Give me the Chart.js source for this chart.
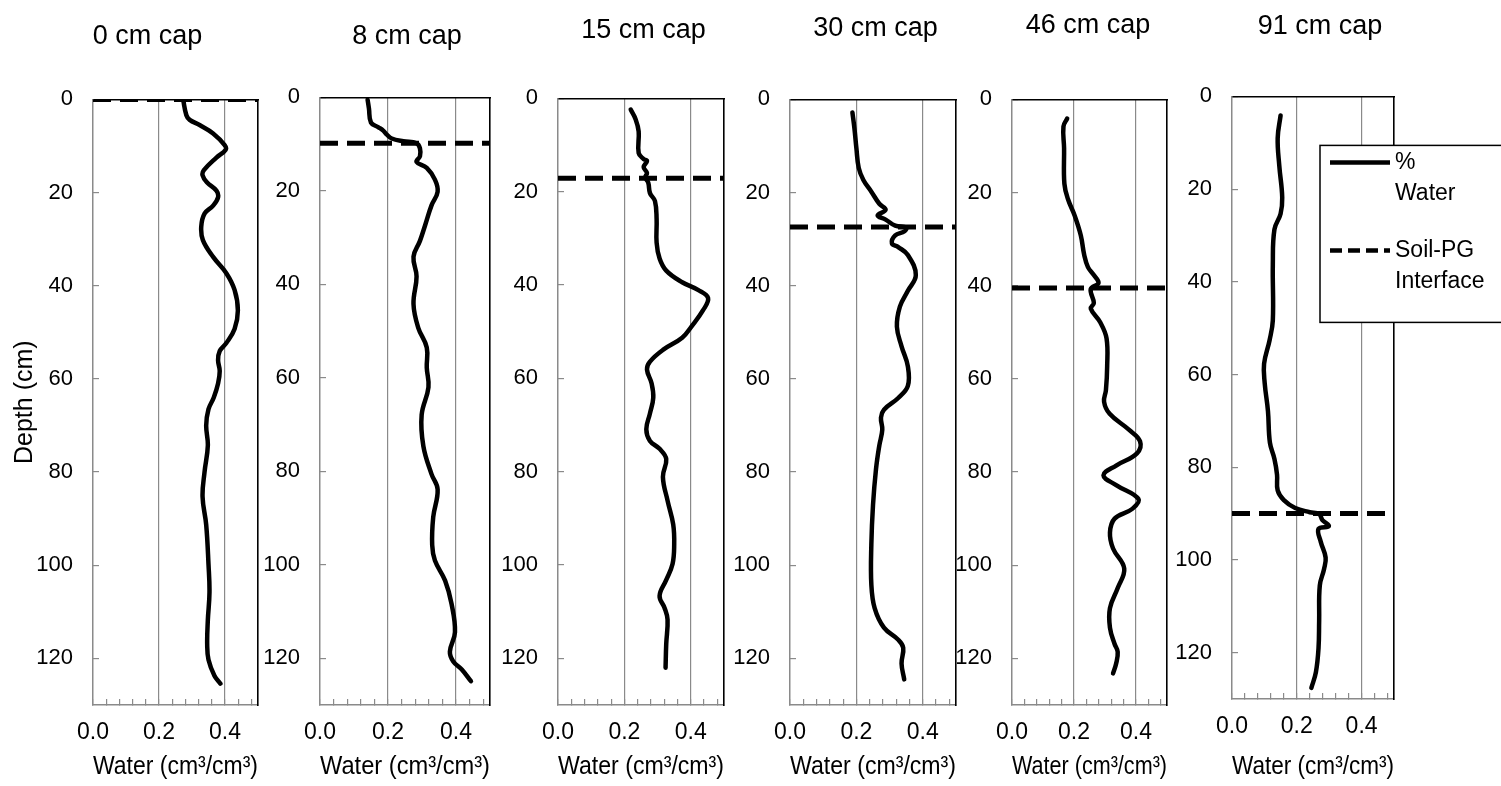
<!DOCTYPE html>
<html>
<head>
<meta charset="utf-8">
<script src="https://cdn.jsdelivr.net/npm/chart.js@4.4.0/dist/chart.umd.min.js"></script>
<style>
    body { margin: 0; background: #fff; width: 1501px; height: 786px; overflow: hidden; position: relative; }
    canvas { position: absolute; top: 0; }
</style>
</head>
<body>
<canvas id="cap0"></canvas>
<canvas id="cap8"></canvas>
<canvas id="cap15"></canvas>
<canvas id="cap30"></canvas>
<canvas id="cap46"></canvas>
<canvas id="cap91"></canvas>
<script>
// Panel titles and interface depths (cm)
const capTitles = ['0 cm cap', '8 cm cap', '15 cm cap', '30 cm cap', '46 cm cap', '91 cm cap'];
const interfaceDepth = [0, 9.8, 17.1, 27.4, 40.5, 90];

// Axis ticks
const waterTicks = [0, 0.04, 0.08, 0.12, 0.16, 0.2, 0.24, 0.28, 0.32, 0.36, 0.4, 0.44, 0.48];
const waterLabels = [0, 0.2, 0.4];
const waterGrid = [0.2, 0.4];
const depthTicks = [0, 20, 40, 60, 80, 100, 120];

const seriesLabels = ['% Water', 'Soil-PG Interface'];
const legendLines = [['%', 'Water'], ['Soil-PG', 'Interface']];

// 0 cm cap
const depthCap0 = [0, 3.4, 4.4, 5.5, 7.3, 9.8, 10.8, 12.5, 15.2, 16.3, 17.8, 19.6, 21, 22.8, 24.5, 27.3, 30.2, 33.8, 37.3, 40.9, 45.3, 49.3, 52.3, 54, 56, 58.3, 61, 64, 66.5, 70, 74.3, 80, 85.3, 91.3, 99.8, 105.8, 111.8, 116.9, 120.3, 123.7, 125.4];
const waterCap0 = [0.273, 0.283, 0.293, 0.323, 0.364, 0.399, 0.402, 0.374, 0.336, 0.332, 0.345, 0.374, 0.379, 0.364, 0.338, 0.328, 0.333, 0.364, 0.404, 0.429, 0.439, 0.429, 0.404, 0.384, 0.379, 0.384, 0.379, 0.366, 0.350, 0.343, 0.348, 0.338, 0.332, 0.343, 0.350, 0.353, 0.348, 0.346, 0.350, 0.368, 0.386];

// 8 cm cap
const depthCap8 = [0.5, 2.4, 5.4, 6.4, 7.1, 7.9, 8.8, 9.4, 9.8, 10.9, 12.6, 13.8, 15.1, 17.6, 20.2, 23.1, 27.4, 30.7, 34.1, 38.3, 44.2, 49.3, 53.5, 57.8, 62, 67.9, 74.6, 80.6, 83.9, 89.8, 95.8, 99.1, 103.4, 108.4, 114.4, 118.6, 120.7, 122.4, 124.9];
const waterCap8 = [0.140, 0.144, 0.150, 0.172, 0.186, 0.196, 0.211, 0.245, 0.284, 0.294, 0.294, 0.284, 0.314, 0.338, 0.346, 0.328, 0.309, 0.294, 0.275, 0.284, 0.275, 0.289, 0.314, 0.314, 0.319, 0.299, 0.304, 0.328, 0.346, 0.333, 0.330, 0.338, 0.368, 0.387, 0.397, 0.382, 0.392, 0.417, 0.444];

// 15 cm cap
const depthCap15 = [2.4, 4.5, 7.1, 11.7, 13, 13.4, 14.7, 16, 16.9, 18.1, 20.3, 22, 25.8, 30.9, 34.3, 36.9, 39.4, 41.1, 42.8, 45.4, 48.8, 51.3, 53.9, 56.4, 58.1, 61.1, 64.1, 67.5, 70.9, 73.4, 75.1, 77.3, 81.1, 86.2, 91.3, 95.6, 99.8, 103.2, 106.6, 109.2, 111.7, 116.9, 122];
const waterCap15 = [0.219, 0.234, 0.243, 0.243, 0.258, 0.268, 0.258, 0.268, 0.263, 0.272, 0.277, 0.292, 0.297, 0.297, 0.306, 0.326, 0.374, 0.423, 0.452, 0.437, 0.403, 0.374, 0.316, 0.277, 0.268, 0.282, 0.287, 0.277, 0.266, 0.277, 0.306, 0.326, 0.316, 0.330, 0.347, 0.350, 0.345, 0.326, 0.306, 0.321, 0.330, 0.326, 0.324];

// 30 cm cap
const depthCap30 = [2.8, 6.2, 10.5, 14.7, 17.3, 19.8, 22.4, 23.7, 24.9, 25.8, 27.1, 27.5, 28.3, 29.2, 30.9, 31.7, 33.4, 37.7, 41.1, 44.5, 48.8, 53, 57.3, 61.5, 64.1, 66.6, 68.3, 70.9, 74.3, 79.4, 87.1, 95.6, 104.1, 109.2, 113.4, 116, 117.7, 121.1, 124.5];
const waterCap30 = [0.188, 0.194, 0.2, 0.207, 0.221, 0.245, 0.269, 0.288, 0.264, 0.288, 0.317, 0.350, 0.345, 0.317, 0.307, 0.326, 0.355, 0.379, 0.355, 0.331, 0.322, 0.336, 0.355, 0.355, 0.326, 0.283, 0.274, 0.278, 0.269, 0.259, 0.250, 0.245, 0.245, 0.255, 0.283, 0.326, 0.341, 0.336, 0.344];

// 46 cm cap
const depthCap46 = [4.1, 5.8, 10.5, 18.1, 21.5, 24.9, 29.2, 33.4, 36, 37.7, 39.4, 40.7, 43.7, 44.9, 47.9, 51.3, 57.3, 62.4, 64.9, 67.5, 70.9, 73.4, 76, 78.6, 80.7, 82.8, 85.8, 87.9, 90, 93, 96.4, 100.7, 104.9, 109.2, 113.4, 116.9, 118.6, 121.1, 123.2];
const waterCap46 = [0.178, 0.166, 0.168, 0.169, 0.181, 0.202, 0.222, 0.233, 0.245, 0.264, 0.279, 0.254, 0.264, 0.254, 0.285, 0.305, 0.307, 0.303, 0.297, 0.315, 0.377, 0.413, 0.403, 0.336, 0.295, 0.336, 0.408, 0.388, 0.331, 0.316, 0.326, 0.362, 0.341, 0.316, 0.316, 0.331, 0.341, 0.336, 0.326];

// 91 cm cap
const depthCap91 = [4.1, 9, 15, 21.8, 25.3, 28.7, 36.3, 48.3, 52.6, 57.7, 61.9, 67.9, 74.7, 78.2, 81.6, 85, 87.1, 88.8, 89.7, 90.1, 91.4, 92.7, 93.3, 96.1, 99.5, 102, 105.5, 113.1, 119.1, 124.2, 127.6];
const waterCap91 = [0.150, 0.141, 0.146, 0.155, 0.150, 0.131, 0.126, 0.126, 0.116, 0.099, 0.101, 0.111, 0.117, 0.131, 0.139, 0.141, 0.160, 0.195, 0.240, 0.269, 0.279, 0.299, 0.267, 0.274, 0.289, 0.284, 0.271, 0.269, 0.267, 0.259, 0.245];

const depthSeries = [depthCap0, depthCap8, depthCap15, depthCap30, depthCap46, depthCap91];
const waterSeries = [waterCap0, waterCap8, waterCap15, waterCap30, waterCap46, waterCap91];

// canvas placement: left, width, y-axis width, right spacer, right padding, title pads, x-axis height
const layouts = [
    { left: 0,    width: 295, axisW: 93, spacer: 37, padR: 0,  titleTop: 20, titleBottom: 47, xAxisH: 81 },
    { left: 260,  width: 294, axisW: 60, spacer: 64, padR: 0,  titleTop: 20, titleBottom: 45, xAxisH: 81 },
    { left: 498,  width: 291, axisW: 60, spacer: 65, padR: 0,  titleTop: 14, titleBottom: 52, xAxisH: 81 },
    { left: 730,  width: 291, axisW: 60, spacer: 65, padR: 0,  titleTop: 12, titleBottom: 55, xAxisH: 81 },
    { left: 952,  width: 272, axisW: 60, spacer: 57, padR: 0,  titleTop: 9,  titleBottom: 58, xAxisH: 81 },
    { left: 1172, width: 329, axisW: 60, spacer: 74, padR: 33, titleTop: 10, titleBottom: 54, xAxisH: 87 }
];

const FONT = '"Liberation Sans", Arial, sans-serif';
const GRAY = '#8a8a8a';
Chart.defaults.font.family = FONT;
Chart.defaults.color = '#000';

const near = (v, list) => list.some(t => Math.abs(t - v) < 1e-6);

// legend box drawn inside the last panel
const boxLegend = {
    id: 'boxLegend',
    afterDraw(chart, args, opts) {
        if (!opts.show) return;
        const { ctx, chartArea } = chart;
        const x = chartArea.left + 88, y = chartArea.top + 49;
        ctx.save();
        ctx.fillStyle = '#fff';
        ctx.fillRect(x, y, 200, 177);
        ctx.strokeStyle = '#000';
        ctx.lineWidth = 1.5;
        ctx.strokeRect(x, y, 200, 177);
        chart.data.datasets.forEach((ds, i) => {
            const ly = y + 17 + i * 88;
            ctx.beginPath();
            ctx.setLineDash(ds.borderDash ? [12, 6] : []);
            ctx.lineWidth = 4.5;
            ctx.strokeStyle = '#000';
            ctx.moveTo(x + 10, ly);
            ctx.lineTo(x + 70, ly);
            ctx.stroke();
            ctx.setLineDash([]);
            ctx.font = '23px ' + FONT;
            ctx.fillStyle = '#000';
            ctx.textBaseline = 'middle';
            legendLines[i].forEach((t, k) => ctx.fillText(t, x + 75, ly + k * 31));
        });
        ctx.restore();
    }
};

capTitles.forEach((title, p) => {
    const lay = layouts[p];
    const canvas = document.getElementById('cap' + title.split(' ')[0]);
    canvas.width = lay.width;
    canvas.height = 786;
    canvas.style.left = lay.left + 'px';

    const depth = depthSeries[p];
    const water = waterSeries[p];

    new Chart(canvas, {
        type: 'scatter',
        data: {
            datasets: [
                {
                    label: seriesLabels[0],
                    data: depth.map((d, i) => ({ x: water[i], y: d })),
                    showLine: true,
                    borderColor: '#000',
                    borderWidth: 4.5,
                    tension: 0.4,
                    pointRadius: 0,
                    borderJoinStyle: 'round',
                    borderCapStyle: 'round'
                },
                {
                    label: seriesLabels[1],
                    data: [{ x: 0, y: interfaceDepth[p] }, { x: 0.5, y: interfaceDepth[p] }],
                    showLine: true,
                    borderColor: '#000',
                    borderWidth: 5,
                    borderDash: [18, 9],
                    pointRadius: 0
                }
            ]
        },
        options: {
            responsive: false,
            animation: false,
            layout: { padding: { left: 0, right: lay.padR, top: 0, bottom: 0 } },
            scales: {
                x: {
                    type: 'linear',
                    position: 'bottom',
                    min: 0,
                    max: 0.5,
                    afterBuildTicks: s => { s.ticks = waterTicks.map(v => ({ value: v })); },
                    afterFit: s => { s.height = lay.xAxisH; },
                    ticks: {
                        autoSkip: false,
                        maxRotation: 0,
                        padding: 20,
                        font: { size: 23 },
                        callback: v => near(v, waterLabels) ? v.toFixed(1) : ''
                    },
                    grid: {
                        color: c => (c.tick && near(c.tick.value, waterGrid)) ? GRAY : 'rgba(0,0,0,0)',
                        tickColor: GRAY,
                        lineWidth: 1.2,
                        tickLength: -6
                    },
                    border: { color: GRAY, width: 1.5 },
                    title: {
                        display: true,
                        text: 'Water (cm³/cm³)',
                        font: { size: 25 },
                        padding: { top: 0, bottom: 4 }
                    }
                },
                x2: {
                    type: 'linear',
                    position: 'top',
                    min: 0,
                    max: 0.5,
                    afterFit: s => { s.height = 0; },
                    ticks: { display: false },
                    grid: { display: false, drawTicks: false },
                    border: { display: true, color: '#000', width: 1.6 }
                },
                y: {
                    type: 'linear',
                    position: 'left',
                    reverse: true,
                    min: 0,
                    max: 130,
                    afterBuildTicks: s => { s.ticks = depthTicks.map(v => ({ value: v })); },
                    afterFit: s => { s.width = lay.axisW; },
                    ticks: {
                        autoSkip: false,
                        padding: 26,
                        font: { size: 22 }
                    },
                    grid: {
                        drawOnChartArea: false,
                        tickColor: GRAY,
                        lineWidth: 1.2,
                        tickLength: -6
                    },
                    border: { color: GRAY, width: 1.5 },
                    title: {
                        display: p === 0,
                        text: 'Depth (cm)',
                        font: { size: 25 },
                        padding: { top: 10, bottom: 0 }
                    }
                },
                y2: {
                    type: 'linear',
                    position: 'right',
                    min: 0,
                    max: 130,
                    afterFit: s => { s.width = lay.spacer; },
                    ticks: { display: false },
                    grid: { display: false, drawTicks: false },
                    border: { display: true, color: '#000', width: 1.6 }
                }
            },
            plugins: {
                legend: { display: false },
                tooltip: { enabled: false },
                title: {
                    display: true,
                    text: title,
                    font: { size: 27, weight: 'normal' },
                    color: '#000',
                    padding: { top: lay.titleTop, bottom: lay.titleBottom }
                },
                boxLegend: { show: p === capTitles.length - 1 }
            }
        },
        plugins: [boxLegend]
    });
});
</script>
</body>
</html>
